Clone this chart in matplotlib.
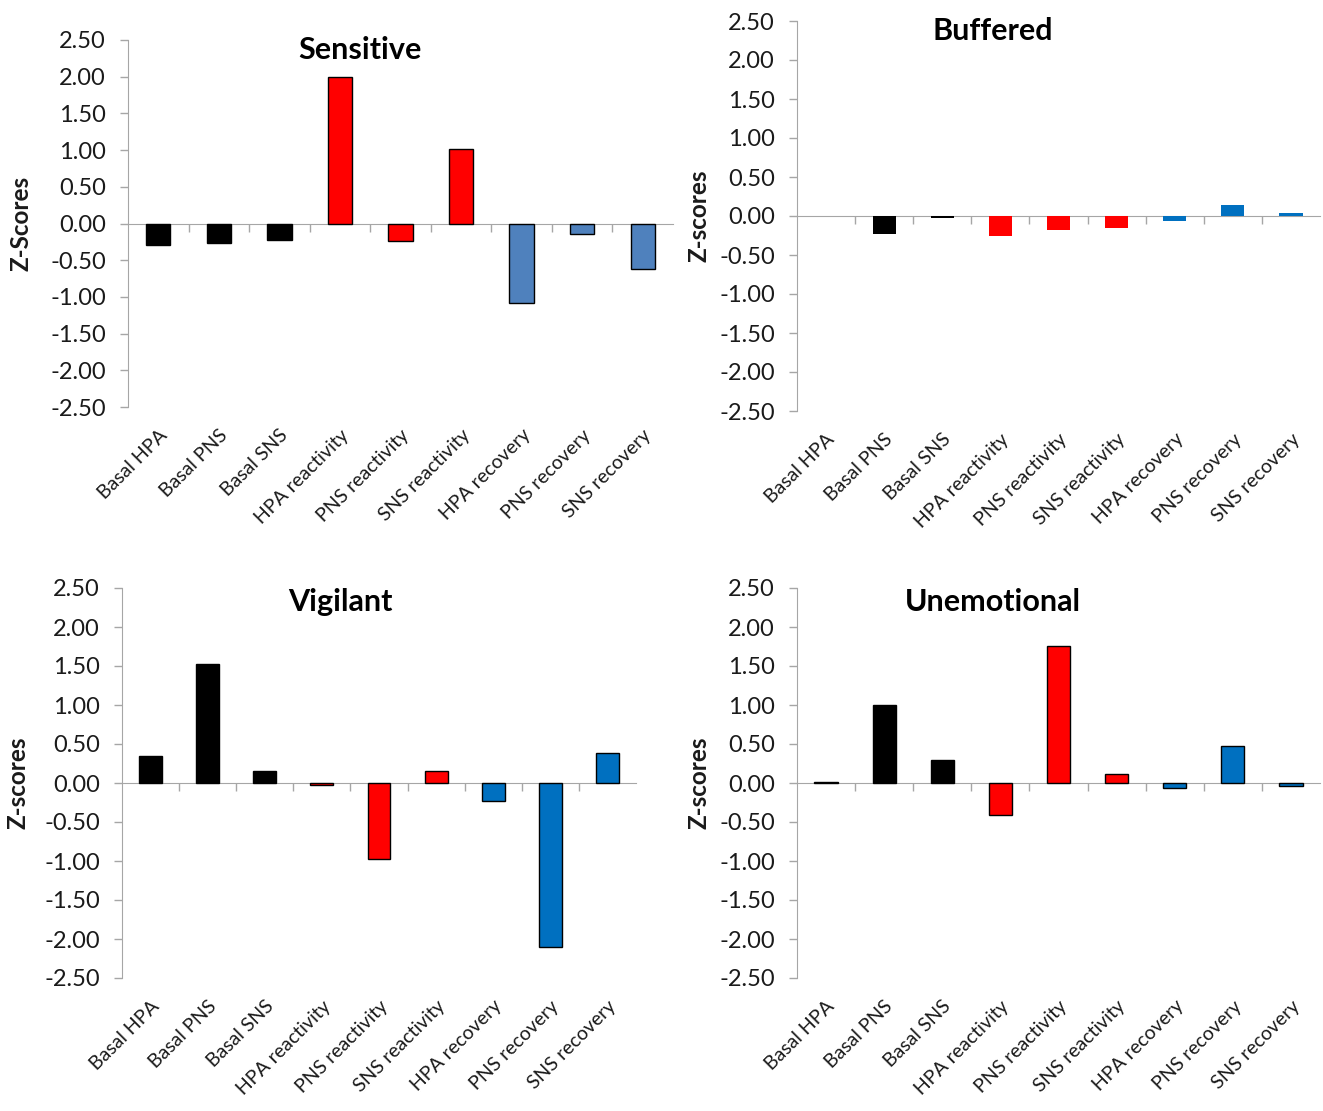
import matplotlib
matplotlib.use("Agg")
import matplotlib.pyplot as plt
import numpy as np

plt.rcParams['font.family'] = ['Lato', 'DejaVu Sans']

categories = ["Basal HPA", "Basal PNS", "Basal SNS", "HPA reactivity", "PNS reactivity",
              "SNS reactivity", "HPA recovery", "PNS recovery", "SNS recovery"]

sensitive = [-0.29, -0.26, -0.22, 2.00, -0.24, 1.02, -1.08, -0.14, -0.62]
buffered = [0.00, -0.23, -0.03, -0.25, -0.18, -0.16, -0.07, 0.14, 0.04]
vigilant = [0.35, 1.52, 0.15, -0.02, -0.98, 0.16, -0.23, -2.10, 0.39]
unemotional = [0.01, 1.00, 0.30, -0.41, 1.76, 0.12, -0.07, 0.47, -0.04]

titles = ["Sensitive", "Buffered", "Vigilant", "Unemotional"]
ylabels = ["Z-Scores", "Z-scores", "Z-scores", "Z-scores"]
yticks = [-2.5, -2.0, -1.5, -1.0, -0.5, 0.0, 0.5, 1.0, 1.5, 2.0, 2.5]

black = "#000000"
red = "#FF0000"
blue_steel = "#4F81BD"
blue = "#0070C0"

W, H = 1323, 1111
fig = plt.figure(figsize=(W / 100, H / 100), dpi=100)

# panel rects in pixels: left, right, top, bottom
rects = [(128, 673, 40, 407), (797, 1320, 21, 411), (122, 636, 588, 978), (797, 1320, 588, 978)]
datasets = [sensitive, buffered, vigilant, unemotional]
blues = [blue_steel, blue, blue, blue]
edges = [True, False, True, True]
title_pos = [(360, 50), (993, 31), (340, 602), (993, 602)]
ylab_x = [-0.175, -0.165, -0.18, -0.165]

x = np.arange(len(categories))
for i, (l, r, t, b) in enumerate(rects):
    ax = fig.add_axes([l / W, 1 - b / H, (r - l) / W, (b - t) / H])
    vals = datasets[i]
    colors = [black] * 3 + [red] * 3 + [blues[i]] * 3
    ax.bar(x, vals, width=0.4, color=colors,
           edgecolor=black if edges[i] else 'none', linewidth=1.0 if edges[i] else 0, zorder=3)
    ax.set_xlim(-0.5, len(categories) - 0.5)
    ax.set_ylim(-2.5, 2.5)
    ax.set_yticks(yticks)
    ax.set_yticklabels([f"{v:.2f}" for v in yticks])
    for s in ['top', 'right']:
        ax.spines[s].set_visible(False)
    ax.spines['left'].set_color('#a6a6a6')
    ax.spines['bottom'].set_position(('data', 0))
    ax.spines['bottom'].set_color('#a6a6a6')
    ax.spines['bottom'].set_zorder(2)
    ax.set_xticks(np.arange(0.5, len(categories) - 0.5, 1.0))
    ax.set_xticklabels([])
    ax.tick_params(axis='x', direction='out', length=6, color='#a6a6a6', width=1)
    ax.tick_params(axis='y', direction='out', length=6, color='#a6a6a6', width=1,
                   labelsize=17, pad=10, labelcolor='#1a1a1a')
    sec = ax.secondary_xaxis('bottom')
    sec.set_xticks(x)
    sec.set_xticklabels(categories, rotation=45, ha='right', va='top',
                        rotation_mode='anchor', fontsize=14, color='#1a1a1a')
    sec.tick_params(length=0, pad=14)
    sec.spines['bottom'].set_visible(False)
    ax.set_ylabel(ylabels[i], fontsize=17.5, fontweight='bold', color='#1a1a1a')
    ax.yaxis.set_label_coords(ylab_x[i], 0.5)
    tx, ty = title_pos[i]
    fig.text(tx / W, 1 - ty / H, titles[i], fontsize=22, fontweight='bold',
             ha='center', va='center', color='#000000')

fig.savefig("out.png", dpi=100, facecolor='white')
